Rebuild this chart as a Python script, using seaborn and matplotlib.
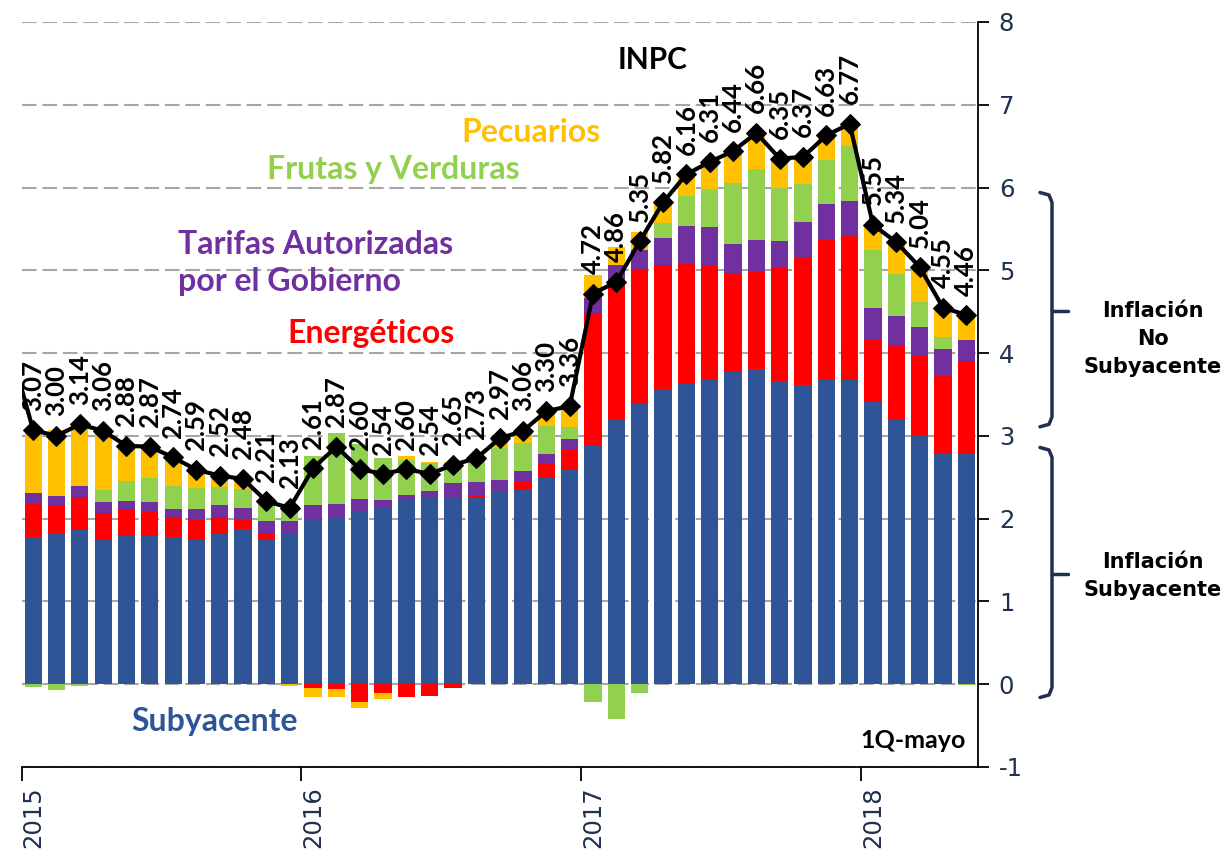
import numpy as np
import matplotlib
matplotlib.use("Agg")
import matplotlib.pyplot as plt
import matplotlib.transforms as mtransforms
import seaborn as sns

# ---------------- data ----------------
months = ["2015-01", "2015-02", "2015-03", "2015-04", "2015-05", "2015-06", "2015-07", "2015-08",
          "2015-09", "2015-10", "2015-11", "2015-12",
          "2016-01", "2016-02", "2016-03", "2016-04", "2016-05", "2016-06", "2016-07", "2016-08",
          "2016-09", "2016-10", "2016-11", "2016-12",
          "2017-01", "2017-02", "2017-03", "2017-04", "2017-05", "2017-06", "2017-07", "2017-08",
          "2017-09", "2017-10", "2017-11", "2017-12",
          "2018-01", "2018-02", "2018-03", "2018-04", "2018-05"]

subyacente = [1.78, 1.83, 1.86, 1.76, 1.79, 1.79, 1.78, 1.76, 1.82, 1.88, 1.76, 1.81,
              2.00, 2.02, 2.08, 2.14, 2.24, 2.26, 2.26, 2.25, 2.34, 2.35, 2.49, 2.59,
              2.88, 3.20, 3.38, 3.57, 3.64, 3.69, 3.77, 3.81, 3.66, 3.62, 3.69, 3.67,
              3.41, 3.20, 3.01, 2.78, 2.78]
energeticos = [0.41, 0.32, 0.40, 0.31, 0.31, 0.29, 0.24, 0.24, 0.20, 0.10, 0.06, 0.01,
               -0.04, -0.06, -0.22, -0.11, -0.16, -0.14, -0.04, 0.04, 0.00, 0.09, 0.17, 0.24,
               1.60, 1.64, 1.64, 1.49, 1.44, 1.36, 1.18, 1.17, 1.37, 1.53, 1.68, 1.74,
               0.75, 0.88, 0.95, 0.94, 1.13]
tarifas = [0.12, 0.12, 0.14, 0.13, 0.11, 0.12, 0.10, 0.12, 0.14, 0.15, 0.15, 0.15,
           0.16, 0.16, 0.16, 0.09, 0.05, 0.07, 0.17, 0.15, 0.13, 0.13, 0.12, 0.13,
           0.19, 0.23, 0.23, 0.33, 0.46, 0.47, 0.37, 0.39, 0.33, 0.43, 0.43, 0.43,
           0.39, 0.37, 0.36, 0.33, 0.25]
frutas_verduras = [-0.03, -0.07, -0.02, 0.15, 0.24, 0.29, 0.28, 0.25, 0.22, 0.23, 0.23, 0.18,
                   0.60, 0.85, 0.66, 0.50, 0.42, 0.34, 0.24, 0.24, 0.38, 0.35, 0.34, 0.15,
                   -0.22, -0.42, -0.11, 0.18, 0.36, 0.46, 0.73, 0.86, 0.63, 0.46, 0.53, 0.66,
                   0.69, 0.50, 0.30, 0.15, -0.01]
pecuarios = [0.77, 0.80, 0.74, 0.73, 0.43, 0.38, 0.34, 0.21, 0.14, 0.12, 0.01, -0.02,
             -0.11, -0.09, -0.07, -0.07, 0.05, 0.02, 0.02, 0.05, 0.12, 0.14, 0.18, 0.25,
             0.27, 0.21, 0.21, 0.25, 0.26, 0.33, 0.39, 0.43, 0.36, 0.33, 0.30, 0.27,
             0.31, 0.39, 0.42, 0.35, 0.31]
inpc = [3.07, 3.00, 3.14, 3.06, 2.88, 2.87, 2.74, 2.59, 2.52, 2.48, 2.21, 2.13,
        2.61, 2.87, 2.60, 2.54, 2.60, 2.54, 2.65, 2.73, 2.97, 3.06, 3.30, 3.36,
        4.72, 4.86, 5.35, 5.82, 6.16, 6.31, 6.44, 6.66, 6.35, 6.37, 6.63, 6.77,
        5.55, 5.34, 5.04, 4.55, 4.46]
inpc_prev = 4.08  # December 2014, only partially visible at the left edge
year_labels = ["2015", "2016", "2017", "2018"]
year_first_month = ["2015-01", "2016-01", "2017-01", "2018-01"]

# ---------------- style ----------------
sns.set_theme(style="white")
plt.rcParams['font.family'] = ['Lato', 'DejaVu Sans']

W, H = 1229, 852
fig = plt.figure(figsize=(W / 100, H / 100), dpi=100)
x0, x1, ytop, ybot = 21.5, 978, 22, 767
ax = fig.add_axes([x0 / W, 1 - ybot / H, (x1 - x0) / W, (ybot - ytop) / H])

n = len(months)
series = [(subyacente, "#2F5597"), (energeticos, "#FF0000"), (tarifas, "#7030A0"),
          (frutas_verduras, "#92D050"), (pecuarios, "#FFC000")]
pos = np.zeros(n)
neg = np.zeros(n)
for vals, col in series:
    v = np.asarray(vals, dtype=float)
    bottom = np.where(v >= 0, pos, neg)
    sns.barplot(x=months, y=v, order=months, ax=ax, color=col, saturation=1,
                width=0.74, bottom=bottom, errorbar=None, linewidth=0)
    pos += np.where(v >= 0, v, 0)
    neg += np.where(v < 0, v, 0)

# INPC line
xs = np.arange(-1, n)
ys = [inpc_prev] + inpc
sns.lineplot(x=xs, y=ys, ax=ax, color="black", linewidth=3, marker="D", markersize=10,
             markeredgecolor="black", legend=False, zorder=5)
for i, v in enumerate(inpc):
    ax.annotate(f"{v:.2f}", (i, v), xytext=(0, 14), textcoords="offset points",
                rotation=90, ha="center", va="bottom", fontsize=18.5, fontweight="bold",
                color="black", zorder=6)

ax.set_xlim(-0.5, n - 0.5)
ax.set_ylim(-1, 8)

# grid
ax.set_axisbelow(True)
ax.yaxis.grid(True, color="#A6A6A6", linewidth=1.5, linestyle=(0, (7, 2.8)))
ax.xaxis.grid(False)

# spines
for s in ["left", "top"]:
    ax.spines[s].set_visible(False)
for s in ["right", "bottom"]:
    ax.spines[s].set_color("black")
    ax.spines[s].set_linewidth(1.3)

# y axis on right
ax.set_yticks(range(-1, 9))
ax.set_yticklabels([str(t) for t in range(-1, 9)])
ax.tick_params(axis="y", left=False, right=True, labelleft=False, labelright=True,
               direction="out", length=8, width=1.3, color="black",
               labelsize=17.5, labelcolor="#1F3050", pad=7)
for lbl in ax.get_yticklabels():
    lbl.set_family("DejaVu Sans")
ax.set_ylabel("")

# x axis: ticks at year boundaries, labels on January bars
ax.set_xticks([-0.5, 11.5, 23.5, 35.5])
ax.set_xticklabels([])
ax.tick_params(axis="x", which="major", bottom=True, direction="out", length=10,
               width=1.3, color="black")
ax.set_xticks([months.index(m) for m in year_first_month], minor=True)
ax.set_xticklabels(year_labels, minor=True, rotation=90, family="DejaVu Sans",
                   fontsize=17.5, color="#1F3050")
ax.tick_params(axis="x", which="minor", bottom=True, length=0, pad=14)
ax.set_xlabel("")


def ftext(px, py, s, **kw):
    fig.text(px / W, 1 - py / H, s, **kw)


bold = dict(fontweight="bold", ha="center", va="center")
ftext(653, 60, "INPC", fontsize=21.5, color="black", **bold)
ftext(531, 133, "Pecuarios", fontsize=23, color="#FFC000", **bold)
ftext(393, 170, "Frutas y Verduras", fontsize=23, color="#92D050", **bold)
ftext(178, 263, "Tarifas Autorizadas\npor el Gobierno", fontsize=23, color="#7030A0",
      fontweight="bold", ha="left", va="center", linespacing=1.35)
ftext(371, 333, "Energéticos", fontsize=23, color="#FF0000", **bold)
ftext(215, 722, "Subyacente", fontsize=23, color="#2F5597", **bold)
ftext(913, 740, "1Q-mayo", fontsize=18, color="black", **bold)

ftext(1153, 339, "Inflación\nNo\nSubyacente", fontsize=15, color="black",
      family="DejaVu Sans", fontweight="bold", ha="center", va="center",
      multialignment="center", linespacing=1.5)
ftext(1153, 576, "Inflación\nSubyacente", fontsize=15, color="black",
      family="DejaVu Sans", fontweight="bold", ha="center", va="center",
      multialignment="center", linespacing=1.5)

# braces
trans = mtransforms.blended_transform_factory(ax.transAxes, ax.transData)


def axx(px):
    return (px - x0) / (x1 - x0)


def brace(top, bot, mid):
    xs_b = [axx(1040), axx(1049), axx(1052), axx(1052), axx(1049), axx(1040)]
    ys_b = [top, top - 0.03, top - 0.12, bot + 0.12, bot + 0.03, bot]
    ax.plot(xs_b, ys_b, transform=trans, clip_on=False, color="#1F3050", lw=2.5,
            solid_joinstyle="round")
    ax.plot([axx(1052), axx(1068)], [mid, mid], transform=trans, clip_on=False,
            color="#1F3050", lw=2.5)


brace(5.94, 3.11, 4.51)
brace(2.86, -0.16, 1.33)

fig.savefig("out.png", dpi=100)
